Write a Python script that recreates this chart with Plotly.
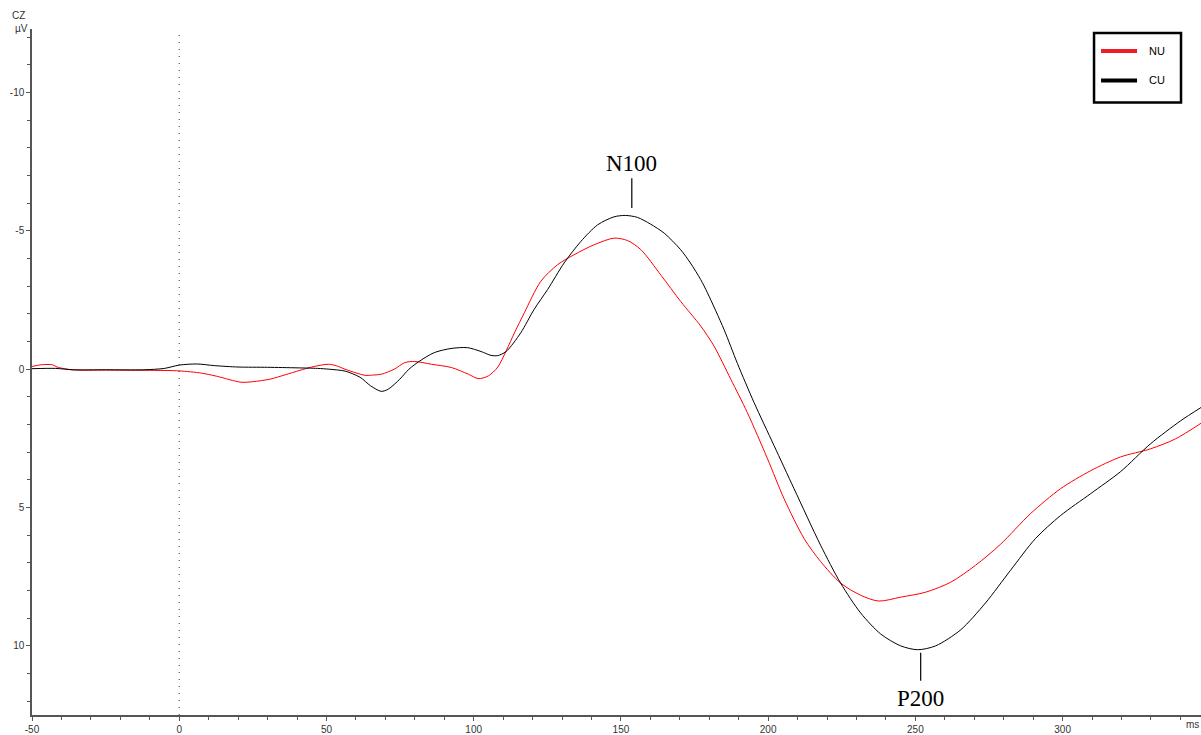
import plotly.graph_objects as go

# Grand-average ERP at electrode CZ, latency in ms, amplitude in µV (negative up)
cu_ms = [-50, -42, -36, -25, -12, -5, 0, 6, 12, 20, 30, 40, 47, 51, 56.4, 61.4, 65, 68.6, 71,
         74.9, 78, 81.7, 86.6, 92.3, 97.9, 102.5, 105.9, 108.1, 111, 116, 120.5, 125.1, 130.7,
         136.4, 142.1, 147.7, 151.5, 155.6, 160, 164.7, 170.3, 173.6, 177.1, 179.4, 185, 189.6,
         195.2, 202, 208.8, 217.8, 224.6, 231.4, 238.2, 245, 250.8, 256.9, 265.4, 273.8, 282.3,
         290.8, 299.3, 309.5, 319.7, 329.8, 340, 347.2]
cu_uv = [-0.02, -0.03, 0.02, 0.02, 0.02, -0.03, -0.15, -0.19, -0.13, -0.08, -0.07, -0.05, -0.03,
         0.0, 0.07, 0.29, 0.6, 0.80, 0.72, 0.36, 0.0, -0.30, -0.60, -0.75, -0.78, -0.64, -0.50,
         -0.49, -0.64, -1.32, -2.16, -2.88, -3.84, -4.62, -5.22, -5.51, -5.56, -5.49, -5.25, -4.92,
         -4.32, -3.84, -3.24, -2.76, -1.44, -0.2, 1.2, 2.76, 4.32, 6.36, 7.73, 8.81, 9.57, 10.0,
         10.14, 10.0, 9.42, 8.45, 7.27, 6.12, 5.29, 4.5, 3.7, 2.7, 1.87, 1.37]

nu_ms = [-50, -47, -43, -41.5, -36.4, -25, -10, 0, 7.5, 12.6, 21, 25, 30.8, 36, 41, 45, 50.7,
         53.5, 56.3, 60, 63.1, 66, 68.7, 73, 76.6, 80, 85.7, 92.5, 98.2, 101.6, 105, 108.2, 111,
         114, 117.2, 122.8, 128.5, 134.1, 140.9, 147.7, 152.3, 156.8, 163.6, 170.3, 177.1, 181.6,
         187.3, 192.9, 199.8, 205.4, 212.2, 217.8, 224.6, 231.4, 237.5, 245, 253.5, 262, 270.4,
         278.9, 289.1, 299.3, 309.5, 319.7, 329.8, 338.3, 347.2]
nu_uv = [-0.1, -0.16, -0.16, -0.08, 0.02, 0.03, 0.04, 0.06, 0.14, 0.25, 0.47, 0.45, 0.36, 0.2,
         0.04, -0.08, -0.18, -0.12, 0.0, 0.13, 0.22, 0.21, 0.18, 0.0, -0.24, -0.28, -0.18, -0.06,
         0.18, 0.34, 0.24, -0.08, -0.66, -1.35, -2.04, -3.18, -3.78, -4.14, -4.50, -4.74, -4.65,
         -4.32, -3.40, -2.45, -1.56, -0.84, 0.36, 1.56, 3.24, 4.68, 6.12, 6.95, 7.73, 8.17, 8.38,
         8.24, 8.06, 7.7, 7.09, 6.33, 5.22, 4.32, 3.67, 3.17, 2.88, 2.52, 1.94]

x_ticks = [-50, 0, 50, 100, 150, 200, 250, 300]
y_ticks = [-10, -5, 0, 5, 10]

# Component markers: (label, latency, line top, line bottom, text position)
peaks = [("N100", 153.7, -6.9, -5.83, -7.45),
         ("P200", 251.8, 11.26, 10.25, 11.9)]

# Legend entries: (name, colour, vertical position in paper units)
legend_items = [("NU", "#ee1c25", 0.968), ("CU", "#000000", 0.925)]

axis_font = dict(family="Liberation Sans, Arial", size=10, color="#333333")

fig = go.Figure()
fig.add_trace(go.Scatter(x=nu_ms, y=nu_uv, mode="lines", name="NU",
                         line=dict(color="#ff0000", width=1, shape="spline", smoothing=0.8),
                         showlegend=False, hoverinfo="skip"))
fig.add_trace(go.Scatter(x=cu_ms, y=cu_uv, mode="lines", name="CU",
                         line=dict(color="#000000", width=1, shape="spline", smoothing=0.8),
                         showlegend=False, hoverinfo="skip"))

# stimulus onset
fig.add_shape(type="line", x0=0, x1=0, y0=0, y1=1, xref="x", yref="paper",
              line=dict(color="#333333", width=1, dash="1px,6px"))

for label, xm, ytop, ybot, ytext in peaks:
    fig.add_shape(type="line", x0=xm, x1=xm, y0=ytop, y1=ybot, xref="x", yref="y",
                  line=dict(color="#000000", width=1.2))
    fig.add_annotation(x=xm, y=ytext, text=label, showarrow=False, xref="x", yref="y",
                       font=dict(family="Liberation Serif, Times New Roman", size=23, color="#000000"))

# boxed legend in the top-right corner
fig.add_shape(type="rect", xref="paper", yref="paper", x0=0.9085, x1=0.9829, y0=0.893, y1=0.994,
              line=dict(color="#000000", width=2.5), fillcolor="white")
for name, colour, yp in legend_items:
    fig.add_shape(type="line", xref="paper", yref="paper", x0=0.9145, x1=0.9453, y0=yp, y1=yp,
                  line=dict(color=colour, width=4))
    fig.add_annotation(xref="paper", yref="paper", x=0.9535, y=yp, xanchor="left", yanchor="middle",
                       text=name, showarrow=False,
                       font=dict(family="Liberation Sans, Arial", size=11, color="#000000"))

fig.add_annotation(xref="paper", yref="paper", x=0, y=1, xanchor="right", yanchor="bottom",
                   xshift=-5, yshift=6, text="CZ", showarrow=False, font=axis_font)
fig.add_annotation(xref="paper", yref="paper", x=0, y=1, xanchor="right", yanchor="bottom",
                   xshift=-2, yshift=-7, text="µV", showarrow=False, font=axis_font)
fig.add_annotation(xref="paper", yref="paper", x=1, y=0, xanchor="right", yanchor="top",
                   xshift=0, yshift=-2, text="ms", showarrow=False, font=axis_font)

fig.update_layout(
    width=1201, height=735,
    margin=dict(l=32, r=0, t=29, b=16),
    paper_bgcolor="white", plot_bgcolor="white",
    showlegend=False,
    xaxis=dict(range=[-50, 347], tickvals=x_ticks, ticktext=[str(v) for v in x_ticks],
               showgrid=False, zeroline=False, showline=True, linecolor="#555555", linewidth=1.5,
               ticks="outside", ticklen=4, tickcolor="#555555", tickfont=axis_font,
               minor=dict(dtick=10, ticks="outside", ticklen=3, tickcolor="#555555")),
    yaxis=dict(range=[12.5, -12.3], tickvals=y_ticks, ticktext=[str(v) for v in y_ticks],
               showgrid=False, zeroline=False, showline=True, linecolor="#555555", linewidth=1.5,
               ticks="outside", ticklen=4, tickcolor="#555555", tickfont=axis_font,
               minor=dict(dtick=1, ticks="outside", ticklen=3, tickcolor="#555555")),
)

fig.write_html("out.html")
